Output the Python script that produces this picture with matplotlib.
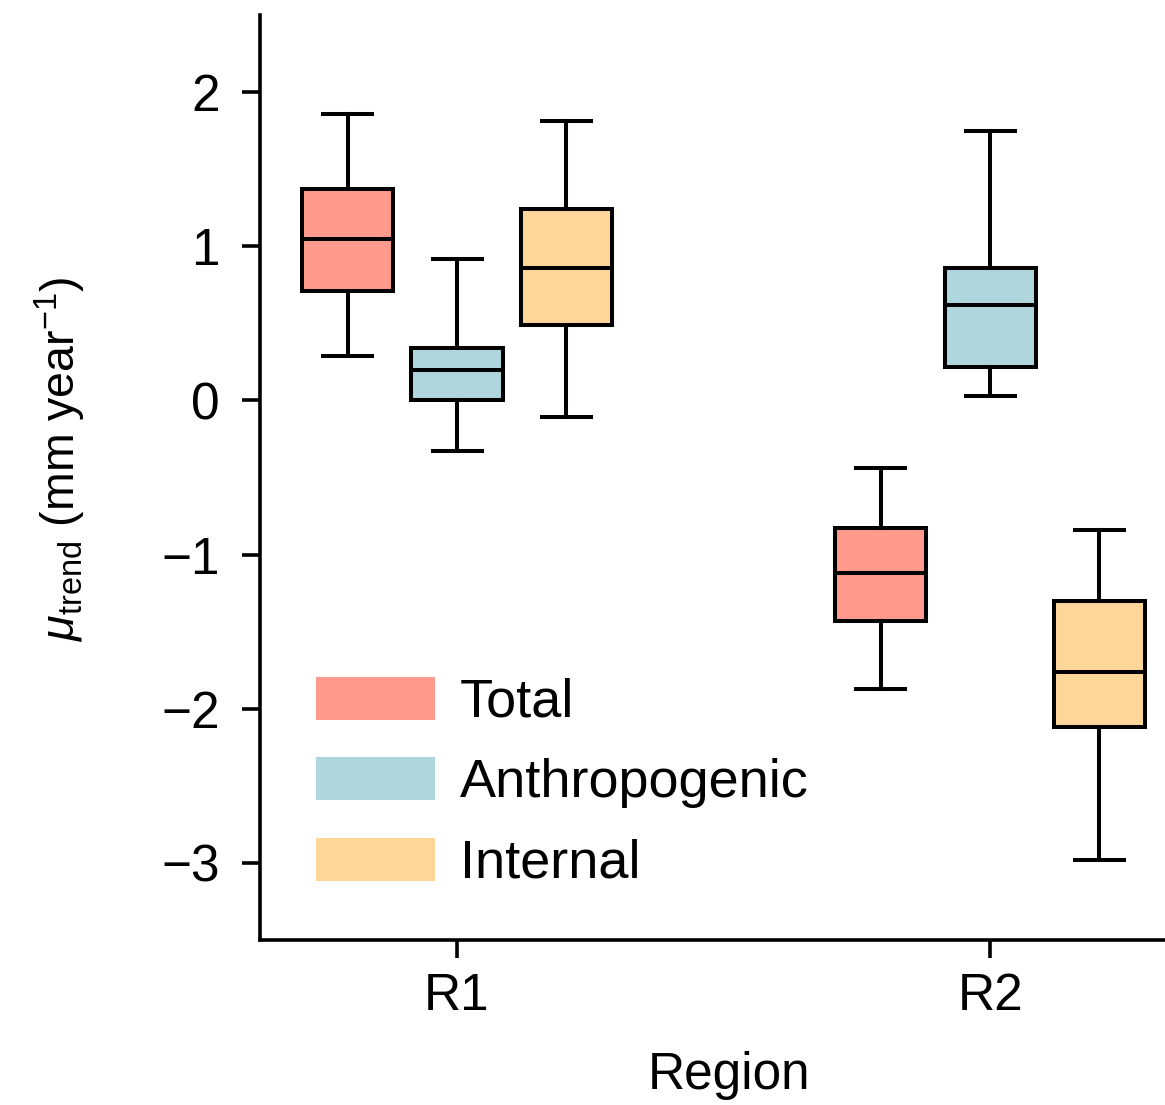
import matplotlib
matplotlib.use("Agg")
import matplotlib.pyplot as plt
from matplotlib.patches import Patch

plt.rcParams['font.family'] = ['Liberation Sans', 'DejaVu Sans']
plt.rcParams['mathtext.fontset'] = 'custom'
plt.rcParams['mathtext.rm'] = 'Liberation Sans'
plt.rcParams['mathtext.it'] = 'Liberation Sans:italic'

regions = ["R1", "R2"]
components = ["Total", "Anthropogenic", "Internal"]
colors = ["#FF9A8C", "#AED6DC", "#FFD699"]

# [whislo, q1, median, q3, whishi] per component per region
total = [[0.29, 0.71, 1.05, 1.37, 1.86], [-1.87, -1.43, -1.12, -0.83, -0.44]]
anthropogenic = [[-0.33, 0.00, 0.20, 0.34, 0.92], [0.03, 0.22, 0.62, 0.86, 1.75]]
internal = [[-0.11, 0.49, 0.86, 1.24, 1.81], [-2.98, -2.12, -1.76, -1.30, -0.84]]
data = [total, anthropogenic, internal]

fig = plt.figure(figsize=(11.65, 11.05), dpi=100)
ax = fig.add_axes([260/1165, 1-940/1105, 1-260/1165, (940-15)/1105])

offset = 0.205
width = 0.171
lw = 2.9
for ci, (comp, col) in enumerate(zip(components, colors)):
    stats = []
    pos = []
    for ri in range(len(regions)):
        lo, q1, med, q3, hi = data[ci][ri]
        stats.append(dict(whislo=lo, q1=q1, med=med, q3=q3, whishi=hi, fliers=[], label=comp))
        pos.append(ri + (ci - 1) * offset)
    ax.bxp(stats, positions=pos, widths=width, capwidths=0.092, patch_artist=True,
           showfliers=False,
           boxprops=dict(facecolor=col, edgecolor='black', linewidth=lw),
           medianprops=dict(color='black', linewidth=lw),
           whiskerprops=dict(color='black', linewidth=lw),
           capprops=dict(color='black', linewidth=lw))

ax.set_xlim(-0.3696, 1.328)
ax.set_ylim(-3.5, 2.5)
ax.set_xticks(range(len(regions)))
ax.set_xticklabels(regions)
ax.set_yticks([-3, -2, -1, 0, 1, 2])
for s in ['top', 'right']:
    ax.spines[s].set_visible(False)
for s in ['left', 'bottom']:
    ax.spines[s].set_linewidth(2.6)
ax.tick_params(axis='both', which='major', length=13, width=2.6, labelsize=37, color='black')
ax.tick_params(axis='y', pad=16)
ax.tick_params(axis='x', pad=10)

ax.set_xlabel("Region", fontsize=37)
ax.xaxis.set_label_coords(0.518, -0.12)
ax.set_ylabel(r"$\mu_{\mathrm{trend}}$ (mm year$^{-1}$)", fontsize=33.5)
ax.yaxis.set_label_coords(-0.19, 0.52)

handles = [Patch(facecolor=c, edgecolor='none') for c in colors]
ax.legend(handles, components, loc='lower left', bbox_to_anchor=(0.032, 0.026), frameon=False,
          fontsize=39, handlelength=2.2, handleheight=0.84, labelspacing=0.54,
          handletextpad=0.45, borderpad=0)

fig.savefig("out.png", dpi=100)
